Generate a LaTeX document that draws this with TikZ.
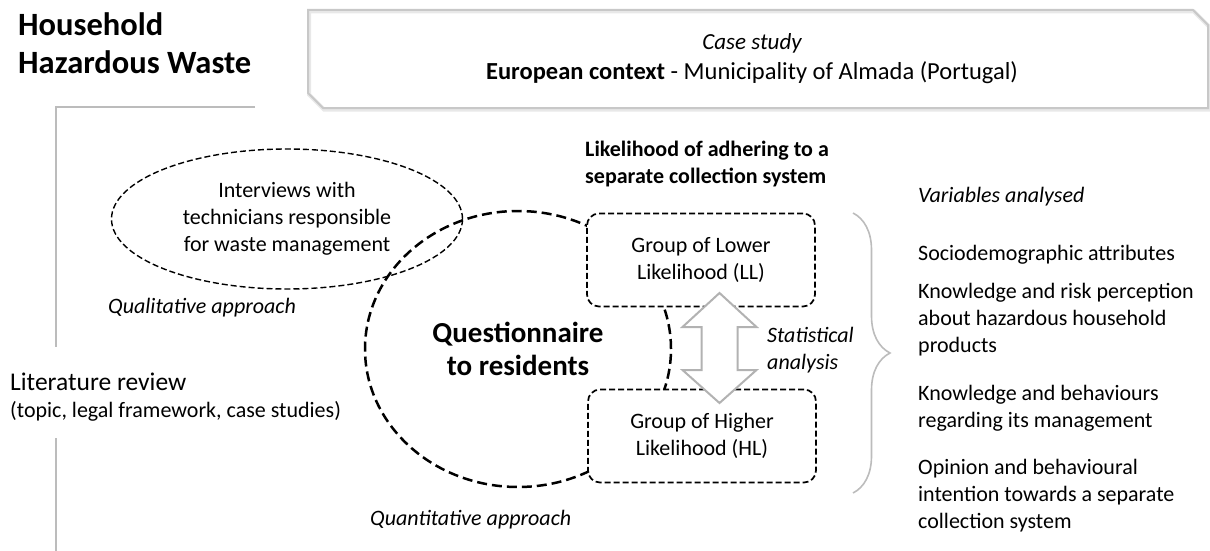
\documentclass[tikz,border=0pt]{standalone}
\usepackage{fontspec}
\setmainfont{Carlito}
\usepackage{tikz}
\usetikzlibrary{positioning}
\usetikzlibrary{calc}
\usetikzlibrary{shapes.geometric}
\usetikzlibrary{decorations.pathreplacing}

\definecolor{framegray}{RGB}{200,200,200}
\definecolor{shadegray}{RGB}{232,232,232}
\definecolor{guidegray}{RGB}{188,188,188}
\definecolor{arrowgray}{RGB}{178,178,178}

\tikzset{
  txt/.style={inner sep=0pt, font=\fontsize{22}{27}\selectfont},
  itxt/.style={inner sep=0pt, font=\fontsize{22}{27}\selectfont\itshape},
  btxt/.style={inner sep=0pt, font=\fontsize{22}{27}\selectfont\bfseries},
  guideline/.style={draw=guidegray, line width=1.6pt},
  interview/.style={txt, ellipse, draw, line width=1.4pt, dash pattern=on 6pt off 3pt,
    minimum width=351pt, minimum height=140pt, align=center},
  survey/.style={ellipse, draw, line width=2.5pt, dash pattern=on 10pt off 5pt,
    minimum width=306pt, minimum height=276pt, align=center, inner sep=0pt,
    font=\fontsize{29}{33}\selectfont\bfseries},
  groupbox/.style={txt, rectangle, rounded corners=12pt, draw, fill=white, line width=1.7pt,
    dash pattern=on 6pt off 3pt, minimum width=228pt, minimum height=93pt, align=center},
  twoway/.style={draw=arrowgray, line width=2pt, fill=white},
  varbrace/.style={draw=guidegray, line width=1.6pt, decorate, decoration={brace, amplitude=37pt}},
}

\begin{document}
\begin{tikzpicture}[x=1pt,y=-1pt]
\useasboundingbox (0,0) rectangle (1210,551);

% title and case study frame
\node[inner sep=0pt, font=\fontsize{32.5}{38}\selectfont\bfseries, anchor=base west, align=left] (hhw) at (18,74) {Household\\Hazardous Waste};
\draw[shadegray, line width=4pt, shift={(1,1.5)}] (308,10) -- (1193,10) -- (1208,25) -- (1208,108) -- (323,108) -- (308,93) -- cycle;
\draw[framegray, line width=2pt] (308,10) -- (1193,10) -- (1208,25) -- (1208,108) -- (323,108) -- (308,93) -- cycle;
\node[inner sep=0pt, font=\fontsize{23}{27}\selectfont\itshape, anchor=base] (case) at (752,49) {Case study};
\node[inner sep=0pt, font=\fontsize{24.5}{29}\selectfont, anchor=base] (context) at (752,80) {\textbf{European context} - Municipality of Almada (Portugal)};

% literature review
\draw[guideline] (255,107) -- (56,107) -- (56,347);
\draw[guideline] (56,438) -- (56,551);
\node[inner sep=0pt, font=\fontsize{25.5}{30}\selectfont, anchor=base west] (lit) at (10,390) {Literature review};
\node[txt, anchor=base west] (litsrc) at (10,417) {(topic, legal framework, case studies)};

% approaches
\node[interview] (intv) at (287,219) {Interviews with\\technicians responsible\\for waste management};
\node[itxt, anchor=base west] (qual) at (108,313) {Qualitative approach};
\node[survey] (quest) at (518,349) {Questionnaire\\to residents};
\node[itxt, anchor=base west] (quant) at (370,525) {Quantitative approach};

% likelihood groups
\node[btxt, anchor=base west, align=left] (likely) at (585,183) {Likelihood of adhering to a\\separate collection system};
\node[groupbox] (ll) at (701,260) {Group of Lower\\Likelihood (LL)};
\node[groupbox] (hl) at (702,436) {Group of Higher\\Likelihood (HL)};
\coordinate (arr) at ($(ll.south)!.5!(hl.north)+(18,0)$);
\draw[twoway] ($(arr)+(0,-55)$) -- ++(37,34) -- ++(-19,0) -- ++(0,43) -- ++(19,0) -- ++(-37,33)
  -- ++(-37,-33) -- ++(19,0) -- ++(0,-43) -- ++(-19,0) -- cycle;
\node[itxt, anchor=base west, align=left] (stat) at (767,369) {Statistical\\analysis};

% variables
\coordinate (bracetop) at (853,213);
\coordinate (bracebot) at (853,493);
\draw[varbrace] (bracetop) -- (bracebot);
\node[itxt, anchor=base west] (vars) at (918,202) {Variables analysed};
\node[txt, anchor=base west] (socio) at (918,260) {Sociodemographic attributes};
\node[txt, anchor=base west, align=left] (risk) at (918,352) {Knowledge and risk perception\\about hazardous household\\products};
\node[txt, anchor=base west, align=left] (manage) at (918,427) {Knowledge and behaviours\\regarding its management};
\node[txt, anchor=base west, align=left] (opinion) at (918,528) {Opinion and behavioural\\intention towards a separate\\collection system};
\end{tikzpicture}
\end{document}
